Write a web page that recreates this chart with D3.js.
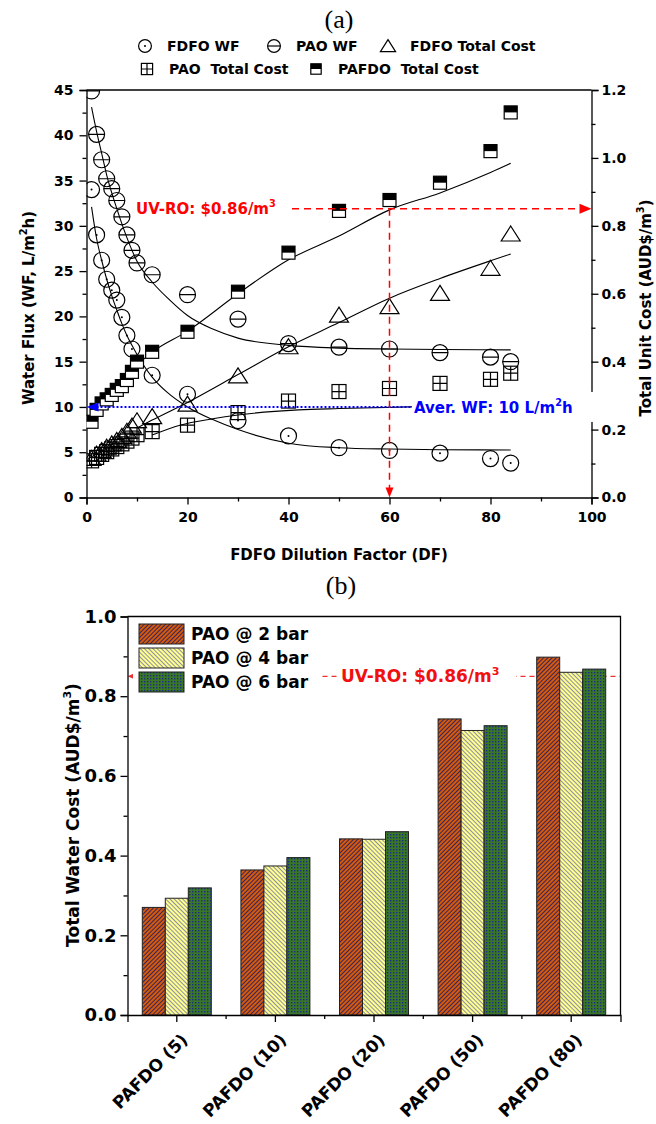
<!DOCTYPE html>
<html>
<head>
<meta charset="utf-8">
<script src="https://cdn.jsdelivr.net/npm/d3@7"></script>
<style>
  body { margin: 0; background: #fff; }
  svg { display: block; }
</style>
</head>
<body>
<script>
/*
 * ========================================================================
 *  Data
 * ========================================================================
 */

// (a) water flux (L/m2h) vs FDFO dilution factor
const fdfoWfDF = [1, 2, 3, 4, 5, 6, 7, 8, 9, 13, 20, 30, 40, 50, 60, 70, 80, 84];
const fdfoWF = [34.0, 29.0, 26.2, 24.1, 22.9, 21.8, 19.9, 17.9, 16.4, 13.5, 11.4, 8.5, 6.8, 5.5, 5.2, 4.9, 4.3, 3.8];
const paoWfDF = [1, 2, 3, 4, 5, 6, 7, 8, 9, 10, 13, 20, 30, 40, 50, 60, 70, 80, 84];
const paoWF = [44.9, 40.1, 37.3, 35.2, 34.1, 32.8, 31.0, 29.0, 27.3, 25.9, 24.6, 22.4, 19.7, 17.0, 16.6, 16.4, 16.0, 15.5, 15.0];

// (a) total unit cost (AUD$/m3)
const costDF = [1, 2, 3, 4, 5, 6, 7, 8, 9, 10, 13, 20, 30, 40, 50, 60, 70, 80, 84];
const fdfoCost = [0.115, 0.128, 0.138, 0.148, 0.158, 0.168, 0.180, 0.195, 0.210, 0.226, 0.238, 0.275, 0.358, 0.444, 0.537, 0.562, 0.601, 0.675, 0.776];
const paoCost = [0.108, 0.118, 0.127, 0.135, 0.143, 0.150, 0.158, 0.166, 0.175, 0.185, 0.194, 0.213, 0.250, 0.284, 0.312, 0.321, 0.336, 0.348, 0.366];
const pafdoCost = [0.223, 0.258, 0.277, 0.289, 0.302, 0.317, 0.328, 0.346, 0.370, 0.400, 0.429, 0.488, 0.606, 0.721, 0.844, 0.876, 0.927, 1.020, 1.134];

// (a) fitted curves
const paoWfFitDF = [1, 2, 3, 4, 6, 8, 10, 13, 16.5, 20, 25, 30, 40, 50, 60, 70, 84];
const paoWfFit = [43.1, 40.4, 38.0, 35.6, 31.9, 28.7, 26.1, 23.8, 21.8, 20.1, 18.6, 17.6, 16.8, 16.5, 16.4, 16.35, 16.3];
const fdfoWfFitDF = [1, 2, 3, 4, 5, 6, 7, 8, 9, 10, 13, 16, 20, 25, 30, 40, 50, 60, 70, 84];
const fdfoWfFit = [32.1, 28.6, 26.2, 24.1, 22.3, 20.7, 19.2, 17.9, 16.8, 15.8, 13.3, 11.6, 10.0, 8.6, 7.5, 6.0, 5.5, 5.35, 5.28, 5.25];
const pafdoFitDF = [1, 5, 10, 13, 20, 30, 40, 50, 60, 70, 80, 84];
const pafdoFit = [0.265, 0.32, 0.39, 0.428, 0.49, 0.60, 0.70, 0.77, 0.847, 0.897, 0.957, 0.984];
const fdfoCostFitDF = [10, 13, 20, 30, 40, 50, 60, 70, 80, 84];
const fdfoCostFit = [0.205, 0.228, 0.28, 0.362, 0.444, 0.515, 0.587, 0.645, 0.697, 0.717];
const paoCostFitDF = [13, 18.5, 25, 30, 42, 50, 64, 84];
const paoCostFit = [0.184, 0.213, 0.232, 0.243, 0.258, 0.262, 0.267, 0.27];

// (a) reference lines
const avgWF = 10;
const uvRoCostA = 0.85;
const uvRoDF = 60;

// (b) total water cost per PAFDO dilution
const categories = ["PAFDO (5)", "PAFDO (10)", "PAFDO (20)", "PAFDO (50)", "PAFDO (80)"];
const seriesNames = ["PAO @ 2 bar", "PAO @ 4 bar", "PAO @ 6 bar"];
const pao2bar = [0.270, 0.364, 0.442, 0.743, 0.898];
const pao4bar = [0.293, 0.374, 0.441, 0.714, 0.860];
const pao6bar = [0.319, 0.395, 0.460, 0.726, 0.868];
const uvRoCostB = 0.85;

/*
 * ========================================================================
 *  SVG + patterns
 * ========================================================================
 */
const W = 656, H = 1124;
const svg = d3.select("body").append("svg")
  .attr("width", W).attr("height", H)
  .style("font-family", '"DejaVu Sans", sans-serif')
  .style("font-weight", "bold");

svg.append("rect").attr("width", W).attr("height", H).attr("fill", "#fff");

const defs = svg.append("defs");

function stripes(id, base, ink, angle) {
  const p = defs.append("pattern").attr("id", id)
    .attr("patternUnits", "userSpaceOnUse")
    .attr("width", 3).attr("height", 3)
    .attr("patternTransform", `rotate(${angle})`);
  p.append("rect").attr("width", 3).attr("height", 3).attr("fill", base);
  p.append("line").attr("x1", 0.5).attr("x2", 0.5).attr("y1", 0).attr("y2", 3)
    .attr("stroke", ink).attr("stroke-width", 1);
}
stripes("hatch-orange", "#d65a0a", "#33245e", 45);
stripes("hatch-yellow", "#ffff8e", "#8e8ea4", -45);

const chk = defs.append("pattern").attr("id", "check-green")
  .attr("patternUnits", "userSpaceOnUse").attr("width", 3).attr("height", 3);
chk.append("rect").attr("width", 3).attr("height", 3).attr("fill", "#3a7627");
chk.append("rect").attr("width", 1.4).attr("height", 1.4).attr("fill", "#1b2c8a");

const seriesFill = ["url(#hatch-orange)", "url(#hatch-yellow)", "url(#check-green)"];

function styleAxis(g, size) {
  g.attr("font-family", null).attr("font-size", size);
  g.selectAll("line, path").attr("stroke", "#000").attr("stroke-width", 1.3);
  g.selectAll("text").attr("fill", "#000");
  return g;
}

function sup(text, parts, size) {
  // parts: [normal, superscript, normal]
  text.append("tspan").text(parts[0]);
  text.append("tspan").attr("dy", -size * 0.45).attr("font-size", size * 0.65).text(parts[1]);
  if (parts[2]) text.append("tspan").attr("dy", size * 0.45).text(parts[2]);
}

/*
 * ========================================================================
 *  Symbols
 * ========================================================================
 */
const R = 8;
function circleDot(g, k = 1) {
  g.append("circle").attr("r", R * k).attr("fill", "none").attr("stroke", "#000").attr("stroke-width", 1.2);
  g.append("circle").attr("r", 1).attr("fill", "#000");
}
function circleBar(g, k = 1) {
  g.append("circle").attr("r", R * k).attr("fill", "none").attr("stroke", "#000").attr("stroke-width", 1.2);
  g.append("line").attr("x1", -R * k).attr("x2", R * k).attr("stroke", "#000").attr("stroke-width", 1.2);
}
function triangle(g, k = 1) {
  g.append("path")
    .attr("d", `M0,${-8 * k}L${9.5 * k},${7 * k}L${-9.5 * k},${7 * k}Z`)
    .attr("fill", "none").attr("stroke", "#000").attr("stroke-width", 1.2);
}
function plusSquare(g, k = 1) {
  const s = 7 * k;
  g.append("rect").attr("x", -s).attr("y", -s).attr("width", 2 * s).attr("height", 2 * s)
    .attr("fill", "none").attr("stroke", "#000").attr("stroke-width", 1.2);
  g.append("path").attr("d", `M${-s},0H${s}M0,${-s}V${s}`).attr("stroke", "#000").attr("stroke-width", 1.2);
}
function halfSquare(g, k = 1) {
  const s = 6.5 * k;
  g.append("rect").attr("x", -s).attr("y", -s).attr("width", 2 * s).attr("height", 2 * s)
    .attr("fill", "#fff").attr("stroke", "#000").attr("stroke-width", 1.2);
  g.append("rect").attr("x", -s).attr("y", -s).attr("width", 2 * s).attr("height", s).attr("fill", "#000");
}

/*
 * ========================================================================
 *  Chart (a)
 * ========================================================================
 */
const a = { left: 86.5, right: 591.5, top: 90, bottom: 497.5 };
const x = d3.scaleLinear().domain([0, 100]).range([a.left, a.right]);
const yWF = d3.scaleLinear().domain([0, 45]).range([a.bottom, a.top]);
const yCost = d3.scaleLinear().domain([0, 1.2]).range([a.bottom, a.top]);

const gA = svg.append("g");

svg.append("text").attr("x", 339).attr("y", 28).attr("text-anchor", "middle")
  .style("font-family", '"Liberation Serif", serif').style("font-weight", "normal")
  .attr("font-size", 26).text("(a)");

// Legend
const legA = [
  { fn: circleDot, x: 145, y: 46, label: "FDFO WF" },
  { fn: circleBar, x: 274, y: 46, label: "PAO WF" },
  { fn: triangle, x: 388, y: 46, label: "FDFO Total Cost" },
  { fn: plusSquare, x: 147, y: 69, label: "PAO  Total Cost" },
  { fn: halfSquare, x: 316, y: 69, label: "PAFDO  Total Cost" }
];
legA.forEach((d) => {
  const g = svg.append("g").attr("transform", `translate(${d.x},${d.y})`);
  d.fn(g, 0.8);
  svg.append("text").attr("x", d.x + 22).attr("y", d.y + 5)
    .attr("font-size", 14).style("white-space", "pre").text(d.label);
});

// Axes
styleAxis(gA.append("g").attr("transform", `translate(0,${a.bottom})`)
  .call(d3.axisBottom(x).tickValues(d3.range(0, 101, 20)).tickSize(7).tickPadding(8)), 14);
styleAxis(gA.append("g").attr("transform", `translate(0,${a.bottom})`)
  .call(d3.axisBottom(x).tickValues(d3.range(10, 100, 20)).tickSize(4).tickFormat("")), 14)
  .select(".domain").remove();
styleAxis(gA.append("g").attr("transform", `translate(${a.left},0)`)
  .call(d3.axisLeft(yWF).tickValues(d3.range(0, 46, 5)).tickSize(7).tickPadding(6)), 14);
styleAxis(gA.append("g").attr("transform", `translate(${a.left},0)`)
  .call(d3.axisLeft(yWF).tickValues(d3.range(2.5, 45, 5)).tickSize(4).tickFormat("")), 14)
  .select(".domain").remove();
styleAxis(gA.append("g").attr("transform", `translate(${a.right},0)`)
  .call(d3.axisRight(yCost).tickValues(d3.range(0, 1.21, 0.2)).tickFormat(d3.format(".1f")).tickSize(7).tickPadding(3)), 14);
styleAxis(gA.append("g").attr("transform", `translate(${a.right},0)`)
  .call(d3.axisRight(yCost).tickValues(d3.range(0.1, 1.2, 0.2)).tickSize(4).tickFormat("")), 14)
  .select(".domain").remove();
gA.append("line").attr("x1", a.left).attr("x2", a.right).attr("y1", a.top).attr("y2", a.top)
  .attr("stroke", "#000").attr("stroke-width", 1.3);

// Axis titles
sup(svg.append("text").attr("transform", "translate(34,308) rotate(-90)")
  .attr("text-anchor", "middle").attr("font-size", 15), ["Water Flux (WF, L/m", "2", "h)"], 15);
sup(svg.append("text").attr("transform", "translate(651,308) rotate(-90)")
  .attr("text-anchor", "middle").attr("font-size", 15), ["Total Unit Cost (AUD$/m", "3", ")"], 15);
svg.append("text").attr("x", 339).attr("y", 560).attr("text-anchor", "middle")
  .attr("font-size", 15).text("FDFO Dilution Factor (DF)");

// Plot clip
defs.append("clipPath").attr("id", "clip-a").append("rect")
  .attr("x", a.left).attr("y", a.top).attr("width", a.right - a.left).attr("height", a.bottom - a.top);
const plotA = gA.append("g").attr("clip-path", "url(#clip-a)");

// Fit curves
const fits = [
  { xs: paoWfFitDF, ys: paoWfFit, y: yWF },
  { xs: fdfoWfFitDF, ys: fdfoWfFit, y: yWF },
  { xs: pafdoFitDF, ys: pafdoFit, y: yCost },
  { xs: fdfoCostFitDF, ys: fdfoCostFit, y: yCost },
  { xs: paoCostFitDF, ys: paoCostFit, y: yCost }
];
fits.forEach((f) => {
  plotA.append("path")
    .attr("d", d3.line().x((d) => x(d[0])).y((d) => f.y(d[1])).curve(d3.curveMonotoneX)(d3.zip(f.xs, f.ys)))
    .attr("fill", "none").attr("stroke", "#000").attr("stroke-width", 1.1);
});

// Points
const pointSets = [
  { xs: costDF, ys: paoCost, y: yCost, fn: plusSquare },
  { xs: costDF, ys: fdfoCost, y: yCost, fn: triangle },
  { xs: costDF, ys: pafdoCost, y: yCost, fn: halfSquare },
  { xs: fdfoWfDF, ys: fdfoWF, y: yWF, fn: circleDot },
  { xs: paoWfDF, ys: paoWF, y: yWF, fn: circleBar }
];
pointSets.forEach((s) => {
  plotA.append("g").selectAll("g")
    .data(d3.zip(s.xs, s.ys))
    .join("g")
    .attr("transform", (d) => `translate(${x(d[0])},${s.y(d[1])})`)
    .each(function () { s.fn(d3.select(this)); });
});

// Average water flux (blue dotted)
const yAvg = yWF(avgWF);
gA.append("line").attr("x1", a.left + 10).attr("x2", 414).attr("y1", yAvg).attr("y2", yAvg)
  .attr("stroke", "#0000ff").attr("stroke-width", 2).attr("stroke-dasharray", "2,2");
gA.append("path").attr("d", `M${a.left},${yAvg}l12,-4.5v9Z`).attr("fill", "#0000ff");
gA.append("rect").attr("x", 412).attr("y", yAvg - 15).attr("width", 187).attr("height", 30).attr("fill", "#fff");
sup(gA.append("text").attr("x", 414).attr("y", yAvg + 6).attr("font-size", 15).attr("fill", "#0000ff"),
  ["Aver. WF: 10 L/m", "2", "h"], 15);

// UV-RO cost (red dashed)
const yUv = yCost(uvRoCostA);
const xUv = x(uvRoDF);
gA.append("line").attr("x1", 292).attr("x2", a.right - 11).attr("y1", yUv).attr("y2", yUv)
  .attr("stroke", "#ff0000").attr("stroke-width", 1.5).attr("stroke-dasharray", "7,5");
gA.append("path").attr("d", `M${a.right},${yUv}l-12,-5v10Z`).attr("fill", "#ff0000");
gA.append("line").attr("x1", xUv).attr("x2", xUv).attr("y1", yUv).attr("y2", a.bottom - 9)
  .attr("stroke", "#ff0000").attr("stroke-width", 1.5).attr("stroke-dasharray", "7,5");
gA.append("path").attr("d", `M${xUv},${a.bottom}l-4,-10h8Z`).attr("fill", "#ff0000");
sup(gA.append("text").attr("x", 136).attr("y", yUv + 5).attr("font-size", 15).attr("fill", "#ff0000"),
  ["UV-RO: $0.86/m", "3"], 15);

/*
 * ========================================================================
 *  Chart (b)
 * ========================================================================
 */
const b = { left: 127.5, right: 620.5, top: 616.5, bottom: 1015 };
const xB = d3.scaleBand().domain(categories).range([b.left, b.right]).padding(0);
const xS = d3.scaleBand().domain(seriesNames).range([-34.5, 34.5]);
const yB = d3.scaleLinear().domain([0, 1]).range([b.bottom, b.top]);
const gB = svg.append("g");

svg.append("text").attr("x", 341).attr("y", 594).attr("text-anchor", "middle")
  .style("font-family", '"Liberation Serif", serif').style("font-weight", "normal")
  .attr("font-size", 26).text("(b)");

// UV-RO line under the bars
const yUvB = yB(uvRoCostB);
gB.append("line").attr("x1", b.left + 6).attr("x2", b.right).attr("y1", yUvB).attr("y2", yUvB)
  .attr("stroke", "#f03030").attr("stroke-width", 1.2).attr("stroke-dasharray", "5,4");
gB.append("path").attr("d", `M${b.left},${yUvB}l7,-3v6Z`).attr("fill", "#f03030");

// Bars
const seriesValues = [pao2bar, pao4bar, pao6bar];
seriesNames.forEach((s, si) => {
  gB.append("g").selectAll("rect")
    .data(categories.map((c, ci) => ({ c: c, v: seriesValues[si][ci] })))
    .join("rect")
    .attr("x", (d) => xB(d.c) + xB.bandwidth() / 2 + xS(s))
    .attr("width", xS.bandwidth())
    .attr("y", (d) => yB(d.v))
    .attr("height", (d) => b.bottom - yB(d.v))
    .attr("fill", seriesFill[si])
    .attr("stroke", "#222").attr("stroke-width", 1);
});

// Axes
styleAxis(gB.append("g").attr("transform", `translate(${b.left},0)`)
  .call(d3.axisLeft(yB).tickValues(d3.range(0, 1.01, 0.2)).tickFormat(d3.format(".1f")).tickSize(7).tickPadding(4)), 18);
styleAxis(gB.append("g").attr("transform", `translate(${b.left},0)`)
  .call(d3.axisLeft(yB).tickValues(d3.range(0.1, 1, 0.2)).tickSize(4).tickFormat("")), 18)
  .select(".domain").remove();
styleAxis(gB.append("g").attr("transform", `translate(0,${b.bottom})`)
  .call(d3.axisBottom(xB).tickSize(7).tickFormat("")), 18);
gB.append("g").selectAll("line")
  .data(categories.slice(1))
  .join("line")
  .attr("x1", (d) => xB(d)).attr("x2", (d) => xB(d))
  .attr("y1", b.bottom).attr("y2", b.bottom + 4)
  .attr("stroke", "#000").attr("stroke-width", 1.3);
gB.append("path").attr("d", `M${b.left},${b.top}H${b.right}V${b.bottom}`)
  .attr("fill", "none").attr("stroke", "#000").attr("stroke-width", 1.3);

gB.append("g").selectAll("text")
  .data(categories)
  .join("text")
  .attr("text-anchor", "end")
  .attr("font-size", 17)
  .attr("transform", (d) => `translate(${xB(d) + xB.bandwidth() / 2 + 12},${b.bottom + 26}) rotate(-45)`)
  .text((d) => d);

sup(svg.append("text").attr("transform", "translate(79,815) rotate(-90)")
  .attr("text-anchor", "middle").attr("font-size", 17), ["Total Water Cost (AUD$/m", "3", ")"], 17);

// Legend
gB.append("rect").attr("x", 133).attr("y", 621).attr("width", 186).attr("height", 74).attr("fill", "#fff");
seriesNames.forEach((s, i) => {
  const cy = 634 + i * 24;
  gB.append("rect").attr("x", 139).attr("y", cy - 10).attr("width", 45).attr("height", 20)
    .attr("fill", seriesFill[i]).attr("stroke", "#222").attr("stroke-width", 1);
  gB.append("text").attr("x", 191).attr("y", cy + 6).attr("font-size", 17).text(s);
});

// UV-RO label
gB.append("rect").attr("x", 338).attr("y", yUvB - 14).attr("width", 178).attr("height", 26).attr("fill", "#fff");
sup(gB.append("text").attr("x", 341).attr("y", yUvB + 6).attr("font-size", 17).attr("fill", "#f01010"),
  ["UV-RO: $0.86/m", "3"], 17);
</script>
</body>
</html>
